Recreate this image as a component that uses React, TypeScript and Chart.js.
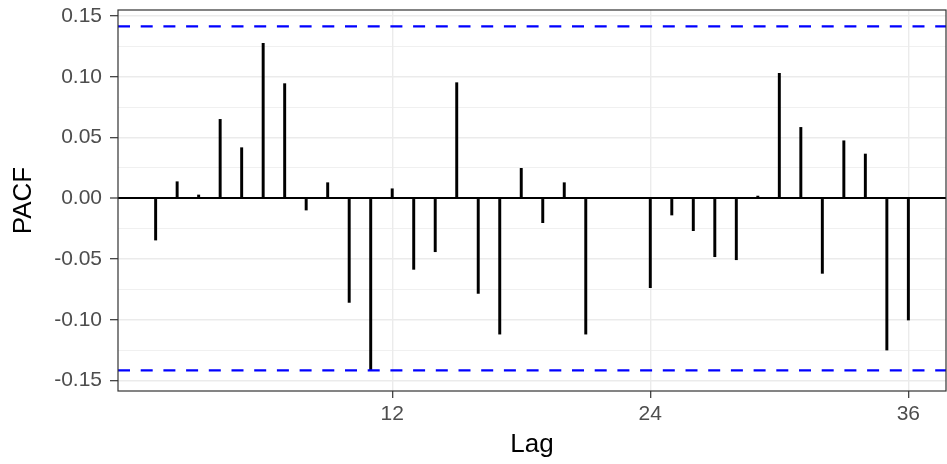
import React, { useEffect, useRef } from "react";
import { Chart, registerables } from "chart.js";

Chart.register(...registerables);

// ---- data ----
const LAGS = [
  1, 2, 3, 4, 5, 6, 7, 8, 9, 10, 11, 12, 13, 14, 15, 16, 17, 18,
  19, 20, 21, 22, 23, 24, 25, 26, 27, 28, 29, 30, 31, 32, 33, 34, 35, 36,
];
const PACF = [
  -0.0343, 0.0137, 0.0028, 0.065, 0.0417, 0.1276, 0.0944, -0.0096, 0.0129,
  -0.0856, -0.1413, 0.0079, -0.0584, -0.0439, 0.0952, -0.0782, -0.1117, 0.0247,
  -0.02, 0.0129, -0.1117, 0, 0, -0.0735, -0.0137, -0.0266, -0.048,
  -0.0505, 0.0019, 0.1029, 0.0584, -0.0617, 0.0474, 0.0365, -0.1248, -0.1001,
];
const CI = 0.1415;
const X_TICKS = [12, 24, 36];
const Y_TICKS = [
  -0.15, -0.125, -0.1, -0.075, -0.05, -0.025, 0, 0.025, 0.05, 0.075, 0.1,
  0.125, 0.15,
];
const X_MIN = -0.75;
const X_MAX = 37.75;
const Y_MIN = -0.1585;
const Y_MAX = 0.155;

const FONT = "'Liberation Sans', Arial, Helvetica, sans-serif";

const isMajorY = (v: number) => Math.abs(v * 20 - Math.round(v * 20)) < 1e-6;

const panelBorder = {
  id: "panelBorder",
  afterDraw(chart: any) {
    const { ctx, chartArea } = chart;
    const { left, top, right, bottom } = chartArea;
    ctx.save();
    ctx.strokeStyle = "#333333";
    ctx.lineWidth = 1.2;
    ctx.strokeRect(left, top, right - left, bottom - top);
    ctx.restore();
  },
};

export default function App() {
  const ref = useRef<HTMLCanvasElement | null>(null);

  useEffect(() => {
    if (!ref.current) return;
    const barData = LAGS.map((l, i) => ({ x: l, y: PACF[i] }));
    const upper = [
      { x: X_MIN, y: CI },
      { x: X_MAX, y: CI },
    ];
    const lower = [
      { x: X_MIN, y: -CI },
      { x: X_MAX, y: -CI },
    ];
    const dashed = {
      type: "line" as const,
      borderColor: "#0000FF",
      borderWidth: 2.4,
      borderDash: [12, 10.7],
      pointRadius: 0,
      fill: false,
      tension: 0,
    };
    const chart = new Chart(ref.current, {
      type: "bar",
      data: {
        datasets: [
          { ...dashed, data: upper } as any,
          { ...dashed, data: lower } as any,
          {
            type: "bar",
            data: barData,
            backgroundColor: "#000000",
            borderWidth: 0,
            barThickness: 2.3,
          } as any,
        ],
      },
      options: {
        animation: false,
        responsive: false,
        devicePixelRatio: 1,
        layout: { padding: { top: 10, right: 1, left: 0, bottom: 0 } },
        plugins: { legend: { display: false }, tooltip: { enabled: false } },
        scales: {
          x: {
            type: "linear",
            min: X_MIN,
            max: X_MAX,
            offset: false,
            afterBuildTicks: (scale: any) => {
              scale.ticks = X_TICKS.map((v) => ({ value: v }));
            },
            afterFit: (scale: any) => {
              scale.height = 73;
              scale.paddingLeft = 0;
              scale.paddingRight = 0;
            },
            grid: {
              offset: false,
              color: "#EBEBEB",
              lineWidth: 1.4,
              drawTicks: true,
              tickLength: 7,
              tickColor: "#333333",
              tickWidth: 1.2,
            },
            border: { display: false },
            ticks: {
              autoSkip: false,
              maxRotation: 0,
              padding: 4,
              color: "#4D4D4D",
              font: { family: FONT, size: 21 },
              callback: (v: any) => String(v),
            },
            title: {
              display: true,
              text: "Lag",
              color: "#000000",
              font: { family: FONT, size: 26, lineHeight: 1 },
              padding: { top: 0, bottom: 6 },
            },
          },
          y: {
            type: "linear",
            min: Y_MIN,
            max: Y_MAX,
            afterBuildTicks: (scale: any) => {
              scale.ticks = Y_TICKS.map((v) => ({ value: v }));
            },
            afterFit: (scale: any) => {
              scale.width = 118;
              scale.paddingTop = 0;
              scale.paddingBottom = 0;
            },
            grid: {
              color: (c: any) =>
                c.tick && Math.abs(c.tick.value) < 1e-9 ? "#000000" : "#EBEBEB",
              lineWidth: (c: any) => {
                if (!c.tick) return 1;
                if (Math.abs(c.tick.value) < 1e-9) return 2;
                return isMajorY(c.tick.value) ? 1.4 : 0.75;
              },
              drawTicks: true,
              tickLength: 8,
              tickColor: (c: any) =>
                c.tick && isMajorY(c.tick.value) ? "#333333" : "rgba(0,0,0,0)",
              tickWidth: 1.2,
            },
            border: { display: false },
            ticks: {
              autoSkip: false,
              padding: 8,
              color: "#4D4D4D",
              font: { family: FONT, size: 21 },
              callback: (v: any) => (isMajorY(Number(v)) ? Number(v).toFixed(2) : ""),
            },
            title: {
              display: true,
              text: "PACF",
              color: "#000000",
              font: { family: FONT, size: 26, lineHeight: 1 },
              padding: { top: 11, bottom: 0 },
            },
          },
        },
      },
      plugins: [panelBorder],
    });
    return () => chart.destroy();
  }, []);

  return (
    <div style={{ position: "absolute", left: 0, top: 0, width: 947, height: 464, background: "#fff" }}>
      <canvas ref={ref} width={947} height={464} style={{ width: 947, height: 464, display: "block" }} />
    </div>
  );
}
